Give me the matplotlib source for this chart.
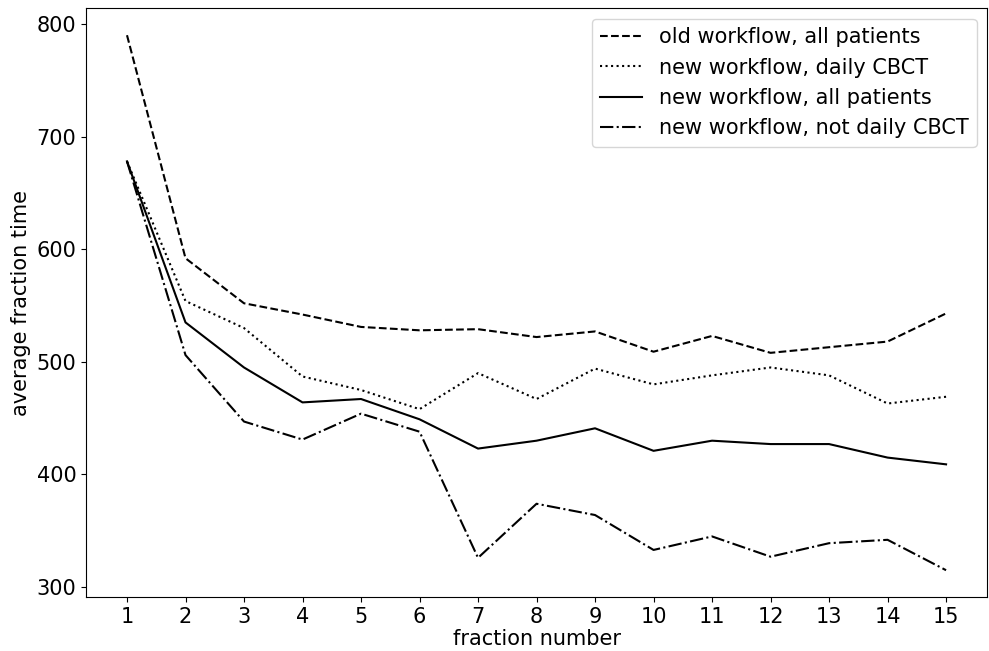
import matplotlib
matplotlib.use("Agg")
import matplotlib.pyplot as plt

fractions = list(range(1, 16))

old_all = [790, 592, 552, 542, 531, 528, 529, 522, 527, 509, 523, 508, 513, 518, 543]
new_daily = [678, 554, 530, 487, 475, 458, 490, 467, 494, 480, 488, 495, 488, 463, 469]
new_all = [678, 535, 495, 464, 467, 449, 423, 430, 441, 421, 430, 427, 427, 415, 409]
new_not_daily = [678, 506, 447, 431, 454, 438, 326, 374, 364, 333, 345, 327, 339, 342, 315]

plt.rcParams['font.size'] = 15

fig = plt.figure(figsize=(9.89, 6.51), dpi=100)
ax = fig.add_subplot(111)
ax.plot(fractions, old_all, '--', color='black', label='old workflow, all patients')
ax.plot(fractions, new_daily, ':', color='black', label='new workflow, daily CBCT')
ax.plot(fractions, new_all, '-', color='black', label='new workflow, all patients')
ax.plot(fractions, new_not_daily, '-.', color='black', label='new workflow, not daily CBCT')

ax.set_xticks(fractions)
ax.set_xlabel('fraction number', labelpad=2)
ax.set_ylabel('average fraction time')
ax.legend(loc='upper right')

plt.subplots_adjust(left=0.087, right=0.998, top=0.987, bottom=0.083)
plt.savefig('out.png', dpi=100)
